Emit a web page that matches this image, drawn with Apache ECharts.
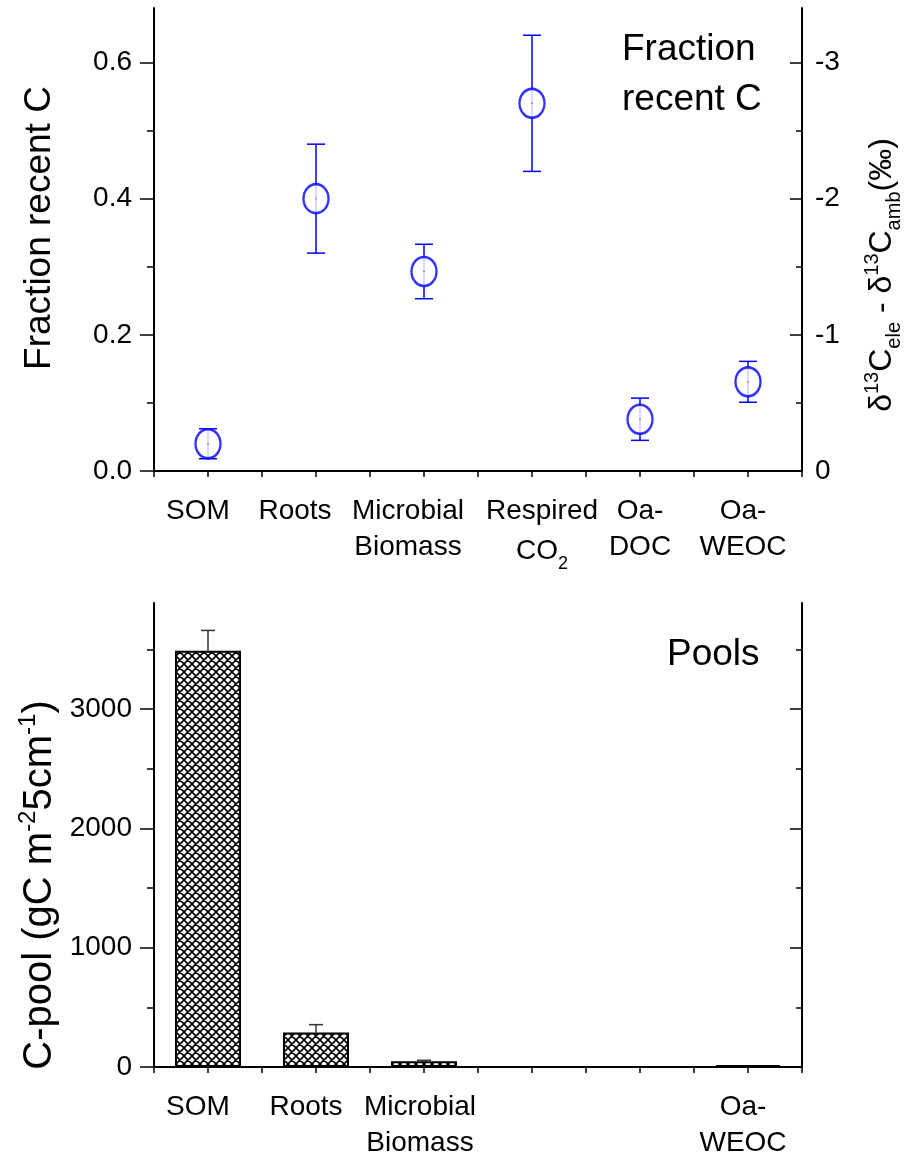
<!DOCTYPE html>
<html>
<head>
<meta charset="utf-8">
<title>Fraction recent C and C pools</title>
<style>
  html, body { margin: 0; padding: 0; background: #ffffff; }
  #chart { width: 904px; height: 1156px; }
</style>
<script src="https://cdn.jsdelivr.net/npm/echarts@6/dist/echarts.min.js"></script>
</head>
<body>
<div id="chart"></div>
<script>
// ---- data ----
const categories = ['SOM', 'Roots', 'Microbial\nBiomass', 'Respired\nCO2', 'Oa-\nDOC', 'Oa-\nWEOC'];
const fractionMean = [0.040, 0.400, 0.293, 0.540, 0.076, 0.131];
const fractionErr = [0.022, 0.080, 0.040, 0.100, 0.031, 0.030];
const poolMean = [3490, 290, 48, null, null, 15];
const poolErr = [170, 65, 8, null, null, null];
const fractionTicks = [0, 0.2, 0.4, 0.6];
const deltaTicks = [-3, -2, -1, 0];
const poolTicks = [0, 1000, 2000, 3000];

// ---- styling ----
const FONT = "'Liberation Sans', Arial, Helvetica, sans-serif";
const BLUE = '#0000ff';
const topLabelShift = [-10, -21, -16, 10, 0, -5];
const bottomLabelShift = [-10, -10, -4, 0, 0, -5];

// diagonal cross-hatch tile used to fill the pool bars
function crossHatch() {
  const s = 8;
  const c = document.createElement('canvas');
  c.width = s; c.height = s;
  const g = c.getContext('2d');
  g.fillStyle = '#ffffff';
  g.fillRect(0, 0, s, s);
  g.strokeStyle = '#000000';
  g.lineWidth = 1.6;
  g.beginPath();
  for (const o of [-s, 0, s]) {
    g.moveTo(o, 0); g.lineTo(o + s, s);
    g.moveTo(o, s); g.lineTo(o + s, 0);
  }
  g.stroke();
  return c;
}

// category label rich text: each category gets its own shifted style, digits after "CO" become subscripts
function labelRich(shifts) {
  const rich = {};
  shifts.forEach((s, i) => {
    rich['c' + i] = {
      fontSize: 28, lineHeight: 36, color: '#000', fontFamily: FONT,
      padding: s < 0 ? [0, -2 * s, 0, 0] : [0, 0, 0, 2 * s]
    };
    rich['s' + i] = {
      fontSize: 18, color: '#000', fontFamily: FONT, verticalAlign: 'top',
      padding: [26, 0, 0, 0]
    };
  });
  return rich;
}
function labelText(i) {
  return categories[i].split('\n').map(line => {
    const m = line.match(/^(.*[A-Za-z])(\d)$/);
    if (m) return '{c' + i + '|' + m[1] + '}{s' + i + '|' + m[2] + '}';
    return '{c' + i + '|' + line + '}';
  }).join('\n');
}
function catIndex(v) {
  const i = Math.round(v) - 1;
  return Math.abs(v - Math.round(v)) < 1e-6 && i >= 0 && i < categories.length ? i : -1;
}

const axisLine = { show: true, lineStyle: { color: '#000', width: 2 } };

function xAxes(gridIndex, showLabel, shifts) {
  return [
    {
      type: 'value', gridIndex, position: 'bottom', min: 0.5, max: 6.5, interval: 0.5,
      axisLine, splitLine: { show: false },
      axisTick: { show: true, length: 6, inside: false, lineStyle: { color: '#000', width: 1.5 } },
      axisLabel: {
        show: true, margin: 22, rich: labelRich(shifts),
        formatter: v => { const i = catIndex(v); return i >= 0 && showLabel(i) ? labelText(i) : ''; }
      }
    },
    {
      type: 'value', gridIndex, position: 'top', min: 0.5, max: 6.5, interval: 0.5,
      axisLine, splitLine: { show: false },
      axisTick: { show: true, length: 6, inside: true, lineStyle: { color: '#000', width: 1.5 } },
      axisLabel: { show: false }
    }
  ];
}

const option = {
  animation: false,
  backgroundColor: '#ffffff',
  textStyle: { fontFamily: FONT, color: '#000' },
  grid: [
    { left: 154, top: 8, width: 648, height: 463, outerBoundsMode: 'none', containLabel: false },
    { left: 154, top: 603, width: 648, height: 464, outerBoundsMode: 'none', containLabel: false }
  ],
  xAxis: [
    ...xAxes(0, () => true, topLabelShift),
    ...xAxes(1, i => poolMean[i] != null, bottomLabelShift)
  ],
  yAxis: [
    {
      type: 'value', gridIndex: 0, position: 'left', min: 0, max: 0.68, interval: 0.2,
      axisLine, splitLine: { show: false },
      axisTick: { show: true, length: 14, inside: false, customValues: fractionTicks, lineStyle: { color: '#000', width: 1.5 } },
      minorTick: { show: true, splitNumber: 2, length: 7, lineStyle: { color: '#000', width: 1.5 } },
      axisLabel: { show: true, margin: 22, fontSize: 28, color: '#000', customValues: fractionTicks, formatter: v => v.toFixed(1) }
    },
    {
      // isotope offset scale: -5 per unit of recent C fraction
      type: 'value', gridIndex: 0, position: 'right', inverse: true, min: -3.4, max: 0, splitNumber: 4,
      axisLine, splitLine: { show: false },
      axisTick: { show: true, length: 12, inside: true, customValues: deltaTicks, lineStyle: { color: '#000', width: 1.5 } },
      minorTick: { show: true, splitNumber: 2, length: 6, lineStyle: { color: '#000', width: 1.5 } },
      axisLabel: { show: true, margin: 13, fontSize: 28, color: '#000', customValues: deltaTicks, formatter: v => String(v) }
    },
    {
      type: 'value', gridIndex: 1, position: 'left', min: 0, max: 3890, interval: 1000,
      axisLine, splitLine: { show: false },
      axisTick: { show: true, length: 14, inside: false, customValues: poolTicks, lineStyle: { color: '#000', width: 1.5 } },
      minorTick: { show: true, splitNumber: 2, length: 7, lineStyle: { color: '#000', width: 1.5 } },
      axisLabel: { show: true, margin: 22, fontSize: 28, color: '#000', customValues: poolTicks, formatter: v => String(v) }
    },
    {
      type: 'value', gridIndex: 1, position: 'right', min: 0, max: 3890, interval: 1000,
      axisLine, splitLine: { show: false },
      axisTick: { show: true, length: 12, inside: true, customValues: poolTicks, lineStyle: { color: '#000', width: 1.5 } },
      minorTick: { show: true, splitNumber: 2, length: 6, lineStyle: { color: '#000', width: 1.5 } },
      axisLabel: { show: false }
    }
  ],
  series: [
    {
      // error bars of the recent C fraction
      type: 'custom', xAxisIndex: 0, yAxisIndex: 0, z: 1, silent: true,
      data: fractionMean.map((m, i) => [i + 1, m - fractionErr[i], m + fractionErr[i]]),
      renderItem(params, api) {
        const lo = api.coord([api.value(0), api.value(1)]);
        const hi = api.coord([api.value(0), api.value(2)]);
        const cap = 9;
        const st = { stroke: BLUE, lineWidth: 1.5 };
        return {
          type: 'group', children: [
            { type: 'line', shape: { x1: lo[0], y1: lo[1], x2: hi[0], y2: hi[1] }, style: st },
            { type: 'line', shape: { x1: lo[0] - cap, y1: lo[1], x2: lo[0] + cap, y2: lo[1] }, style: st },
            { type: 'line', shape: { x1: hi[0] - cap, y1: hi[1], x2: hi[0] + cap, y2: hi[1] }, style: st }
          ]
        };
      }
    },
    {
      // open circles: white fill hides the error bar inside the marker
      type: 'scatter', xAxisIndex: 0, yAxisIndex: 0, z: 2, silent: true,
      symbol: 'circle', symbolSize: [25, 29],
      itemStyle: { color: '#ffffff', borderColor: BLUE, borderWidth: 2.5 },
      data: fractionMean.map((m, i) => [i + 1, m])
    },
    {
      type: 'scatter', xAxisIndex: 0, yAxisIndex: 0, z: 3, silent: true,
      symbol: 'circle', symbolSize: 1.5,
      itemStyle: { color: '#444' },
      data: fractionMean.map((m, i) => [i + 1, m])
    },
    {
      type: 'bar', xAxisIndex: 2, yAxisIndex: 2, z: 2, silent: true,
      barWidth: 66,
      itemStyle: { color: { image: crossHatch(), repeat: 'repeat' }, borderColor: '#000', borderWidth: 2 },
      data: poolMean.map((v, i) => [i + 1, v]).filter(d => d[1] != null)
    },
    {
      // upper error bars of the pools
      type: 'custom', xAxisIndex: 2, yAxisIndex: 2, z: 1, silent: true,
      data: poolMean.map((v, i) => [i + 1, v, poolErr[i] == null ? null : v + poolErr[i]]).filter(d => d[2] != null),
      renderItem(params, api) {
        const lo = api.coord([api.value(0), api.value(1)]);
        const hi = api.coord([api.value(0), api.value(2)]);
        const cap = 7;
        const st = { stroke: '#333', lineWidth: 1.5 };
        return {
          type: 'group', children: [
            { type: 'line', shape: { x1: lo[0], y1: lo[1], x2: hi[0], y2: hi[1] }, style: st },
            { type: 'line', shape: { x1: hi[0] - cap, y1: hi[1], x2: hi[0] + cap, y2: hi[1] }, style: st }
          ]
        };
      }
    }
  ],
  graphic: [
    {
      type: 'text', left: 622, top: 25, z: 10,
      style: { text: 'Fraction\nrecent C', fontSize: 37, lineHeight: 50, fontFamily: FONT, fill: '#000' }
    },
    {
      type: 'text', left: 667, top: 634, z: 10,
      style: { text: 'Pools', fontSize: 37, lineHeight: 42, fontFamily: FONT, fill: '#000' }
    },
    {
      type: 'text', x: 40, y: 228, rotation: Math.PI / 2, z: 10,
      style: { text: 'Fraction recent C', fontSize: 37, fontFamily: FONT, fill: '#000', align: 'center', verticalAlign: 'middle' }
    },
    {
      type: 'text', x: 40, y: 885, rotation: Math.PI / 2, z: 10,
      style: {
        text: '{m|C-pool (gC m}{sup|-2}{m|5cm}{sup|-1}{m|)}',
        align: 'center', verticalAlign: 'middle',
        rich: {
          m: { fontSize: 40, lineHeight: 52, fontFamily: FONT, fill: '#000' },
          sup: { fontSize: 24, fontFamily: FONT, fill: '#000', verticalAlign: 'top', padding: [2, 0, 0, 0] }
        }
      }
    },
    {
      type: 'text', x: 882, y: 275, rotation: Math.PI / 2, z: 10,
      style: {
        text: '{m|δ}{sup|13}{m|C}{sub|ele}{m| - δ}{sup|13}{m|C}{sub|amb}{m|(‰)}',
        align: 'center', verticalAlign: 'middle',
        rich: {
          m: { fontSize: 32, lineHeight: 44, fontFamily: FONT, fill: '#000' },
          sup: { fontSize: 20, fontFamily: FONT, fill: '#000', verticalAlign: 'top', padding: [2, 0, 0, 0] },
          sub: { fontSize: 20, fontFamily: FONT, fill: '#000', verticalAlign: 'bottom' }
        }
      }
    }
  ]
};

const chart = echarts.init(document.getElementById('chart'), null, { renderer: 'canvas' });
chart.setOption(option);
</script>
</body>
</html>
